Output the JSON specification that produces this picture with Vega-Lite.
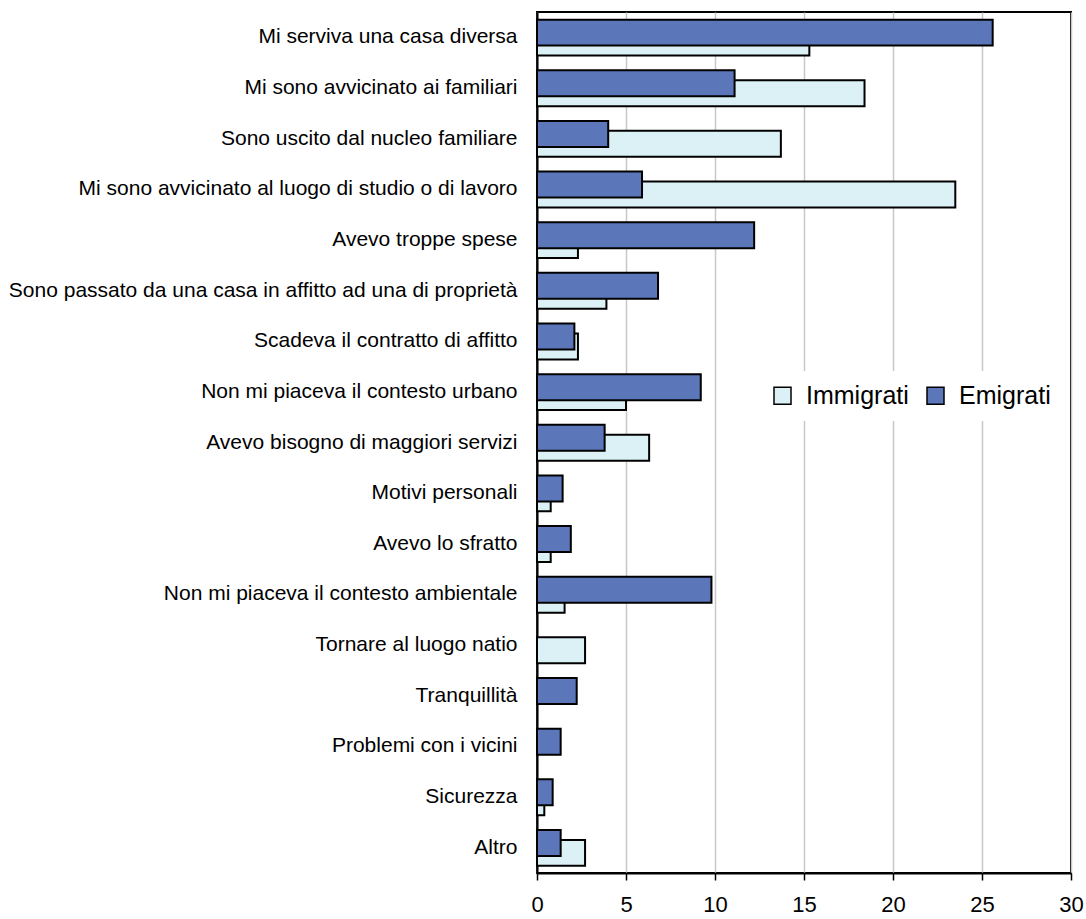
{
  "$schema": "https://vega.github.io/schema/vega-lite/v6.json",
  "width": 534,
  "height": 861,
  "autosize": "none",
  "padding": {"left": 537, "top": 12, "right": 15, "bottom": 46},
  "background": "white",
  "config": {"view": {"stroke": "black", "strokeWidth": 2}, "font": "Liberation Sans"},
  "data": {"values": [
    {"motivo": "Mi serviva una casa diversa\u00a0", "serie": "Immigrati", "valore": 15.3},
    {"motivo": "Mi serviva una casa diversa\u00a0", "serie": "Emigrati", "valore": 25.6},
    {"motivo": "Mi sono avvicinato ai familiari", "serie": "Immigrati", "valore": 18.4},
    {"motivo": "Mi sono avvicinato ai familiari", "serie": "Emigrati", "valore": 11.1},
    {"motivo": "Sono uscito dal nucleo familiare\u00a0", "serie": "Immigrati", "valore": 13.7},
    {"motivo": "Sono uscito dal nucleo familiare\u00a0", "serie": "Emigrati", "valore": 4.0},
    {"motivo": "Mi sono avvicinato al luogo di studio o di lavoro", "serie": "Immigrati", "valore": 23.5},
    {"motivo": "Mi sono avvicinato al luogo di studio o di lavoro", "serie": "Emigrati", "valore": 5.9},
    {"motivo": "Avevo troppe spese", "serie": "Immigrati", "valore": 2.3},
    {"motivo": "Avevo troppe spese", "serie": "Emigrati", "valore": 12.2},
    {"motivo": "Sono passato da una casa in affitto ad una di proprietà", "serie": "Immigrati", "valore": 3.9},
    {"motivo": "Sono passato da una casa in affitto ad una di proprietà", "serie": "Emigrati", "valore": 6.8},
    {"motivo": "Scadeva il contratto di affitto", "serie": "Immigrati", "valore": 2.3},
    {"motivo": "Scadeva il contratto di affitto", "serie": "Emigrati", "valore": 2.1},
    {"motivo": "Non mi piaceva il contesto urbano\u00a0", "serie": "Immigrati", "valore": 5.0},
    {"motivo": "Non mi piaceva il contesto urbano\u00a0", "serie": "Emigrati", "valore": 9.2},
    {"motivo": "Avevo bisogno di maggiori servizi", "serie": "Immigrati", "valore": 6.3},
    {"motivo": "Avevo bisogno di maggiori servizi", "serie": "Emigrati", "valore": 3.8},
    {"motivo": "Motivi personali", "serie": "Immigrati", "valore": 0.77},
    {"motivo": "Motivi personali", "serie": "Emigrati", "valore": 1.44},
    {"motivo": "Avevo lo sfratto", "serie": "Immigrati", "valore": 0.77},
    {"motivo": "Avevo lo sfratto", "serie": "Emigrati", "valore": 1.9},
    {"motivo": "Non mi piaceva il contesto ambientale\u00a0", "serie": "Immigrati", "valore": 1.55},
    {"motivo": "Non mi piaceva il contesto ambientale\u00a0", "serie": "Emigrati", "valore": 9.8},
    {"motivo": "Tornare al luogo natio", "serie": "Immigrati", "valore": 2.7},
    {"motivo": "Tranquillità", "serie": "Emigrati", "valore": 2.23},
    {"motivo": "Problemi con i vicini", "serie": "Emigrati", "valore": 1.33},
    {"motivo": "Sicurezza", "serie": "Immigrati", "valore": 0.41},
    {"motivo": "Sicurezza", "serie": "Emigrati", "valore": 0.88},
    {"motivo": "Altro", "serie": "Immigrati", "valore": 2.7},
    {"motivo": "Altro", "serie": "Emigrati", "valore": 1.33}
  ]},
  "encoding": {
    "y": {
      "field": "motivo", "type": "nominal", "title": null,
      "scale": {"domain": [
        "Mi serviva una casa diversa\u00a0",
        "Mi sono avvicinato ai familiari",
        "Sono uscito dal nucleo familiare\u00a0",
        "Mi sono avvicinato al luogo di studio o di lavoro",
        "Avevo troppe spese",
        "Sono passato da una casa in affitto ad una di proprietà",
        "Scadeva il contratto di affitto",
        "Non mi piaceva il contesto urbano\u00a0",
        "Avevo bisogno di maggiori servizi",
        "Motivi personali",
        "Avevo lo sfratto",
        "Non mi piaceva il contesto ambientale\u00a0",
        "Tornare al luogo natio",
        "Tranquillità",
        "Problemi con i vicini",
        "Sicurezza",
        "Altro"
      ], "paddingInner": 0, "paddingOuter": 0},
      "axis": {
        "domainColor": "black", "domainWidth": 2, "ticks": false, "grid": false,
        "labelPadding": 20, "labelFontSize": 21, "labelColor": "black",
        "labelLimit": 1000, "labelFont": "Liberation Sans"
      }
    },
    "x": {
      "field": "valore", "type": "quantitative", "title": null,
      "scale": {"domain": [0, 30], "nice": false},
      "axis": {
        "values": [0, 5, 10, 15, 20, 25, 30],
        "domainColor": "black", "domainWidth": 2,
        "tickColor": "black", "tickWidth": 1.5, "tickSize": 7,
        "gridColor": "#c8c8c8", "gridWidth": 1.5,
        "labelPadding": 14, "labelFontSize": 22, "labelColor": "black",
        "labelFont": "Liberation Sans", "labelFlush": false
      }
    },
    "color": {
      "field": "serie", "type": "nominal",
      "scale": {"domain": ["Immigrati", "Emigrati"], "range": ["#dcf1f6", "#5b77ba"]},
      "legend": {
        "orient": "none", "legendX": 221, "legendY": 359, "direction": "horizontal",
        "title": null, "symbolType": "square", "symbolSize": 289,
        "symbolStrokeColor": "black", "symbolStrokeWidth": 1.5,
        "labelFontSize": 25, "labelFont": "Liberation Sans", "labelColor": "black",
        "labelOffset": 11, "columnPadding": 14, "padding": 12, "fillColor": "white"
      }
    }
  },
  "layer": [
    {
      "transform": [{"filter": "datum.serie === 'Immigrati'"}],
      "mark": {"type": "bar", "height": {"band": 0.513}, "yOffset": 5.2, "stroke": "black", "strokeWidth": 2}
    },
    {
      "transform": [{"filter": "datum.serie === 'Emigrati'"}],
      "mark": {"type": "bar", "height": {"band": 0.513}, "yOffset": -4.7, "stroke": "black", "strokeWidth": 2}
    }
  ]
}
